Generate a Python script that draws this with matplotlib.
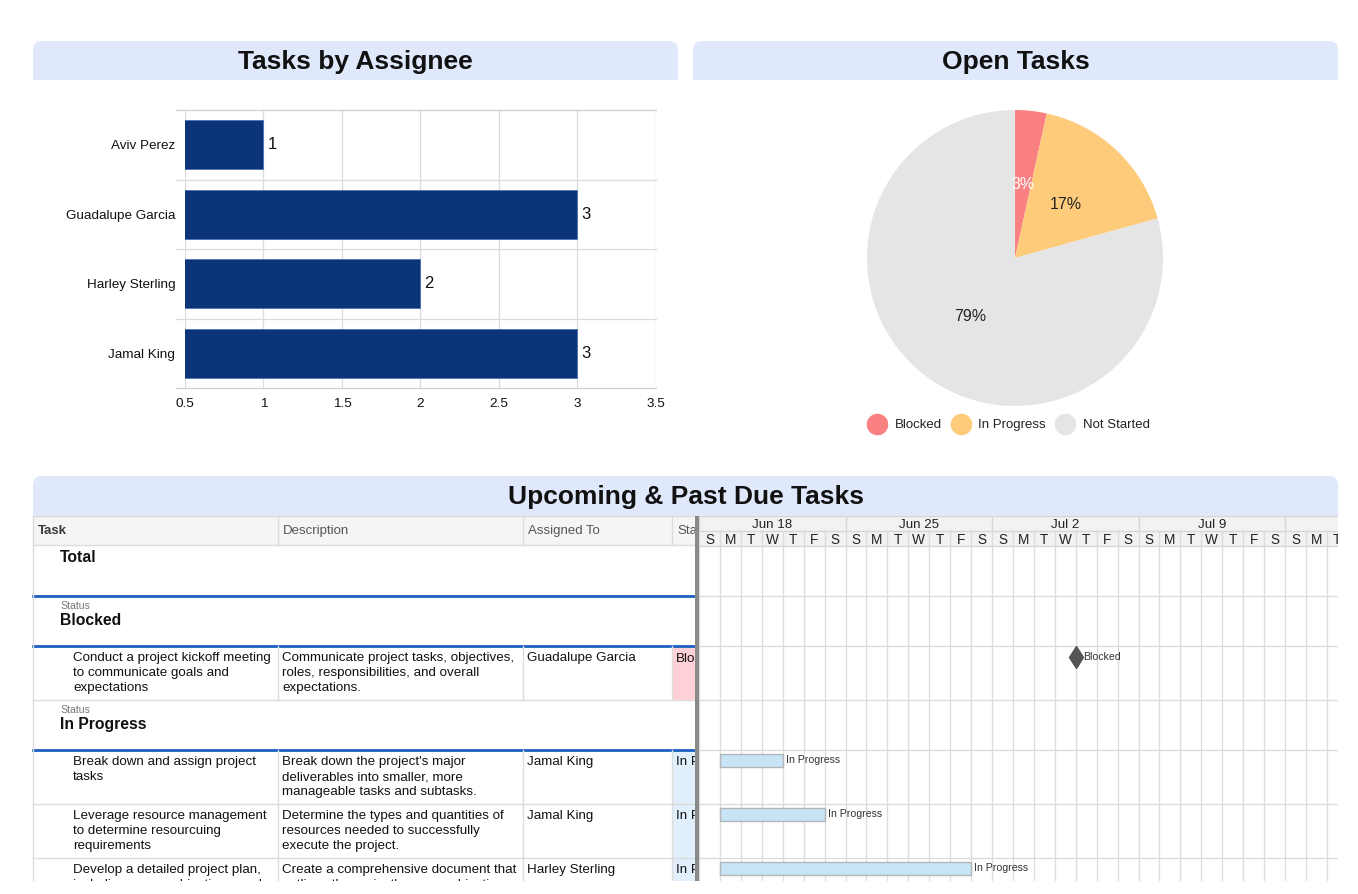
import matplotlib
matplotlib.use("Agg")
import matplotlib.pyplot as plt
import matplotlib.dates as mdates
from matplotlib.patches import Rectangle, FancyBboxPatch
from matplotlib.lines import Line2D
import numpy as np
import datetime as dt

plt.rcParams['font.family'] = ['Liberation Sans', 'DejaVu Sans']

# ---------------- data ----------------
assignees = ["Aviv Perez", "Guadalupe Garcia", "Harley Sterling", "Jamal King"]
task_counts = [1, 3, 2, 3]
bar_ticks = [0.5, 1, 1.5, 2, 2.5, 3, 3.5]
bar_tick_labels = ["0.5", "1", "1.5", "2", "2.5", "3", "3.5"]

status_labels = ["Blocked", "In Progress", "Not Started"]
status_counts = [1, 5, 23]
status_colors = ["#f98181", "#fecb7b", "#e5e5e5"]

table_columns = ["Task", "Description", "Assigned To", "Status"]
task_names = [
    "Conduct a project kickoff meeting\nto communicate goals and\nexpectations",
    "Break down and assign project\ntasks",
    "Leverage resource management\nto determine resourcuing\nrequirements",
    "Develop a detailed project plan,\nincluding scope, objectives, and\ndeliverables",
]
task_descriptions = [
    "Communicate project tasks, objectives,\nroles, responsibilities, and overall\nexpectations.",
    "Break down the project's major\ndeliverables into smaller, more\nmanageable tasks and subtasks.",
    "Determine the types and quantities of\nresources needed to successfully\nexecute the project.",
    "Create a comprehensive document that\noutlines the project's scope, objectives,\ndeliverables and timeline.",
]
task_assignees = ["Guadalupe Garcia", "Jamal King", "Jamal King", "Harley Sterling"]
task_statuses = ["Blocked", "In Progress", "In Progress", "In Progress"]
task_start = ["2023-07-06", "2023-06-19", "2023-06-19", "2023-06-19"]
task_days = [0, 3, 5, 12]          # 0 = milestone
timeline_start = "2023-06-18"
week_labels = ["Jun 18", "Jun 25", "Jul 2", "Jul 9", ""]
day_letters = ["S", "M", "T", "W", "T", "F", "S"]

# ---------------- figure ----------------
W, H = 1358, 894
fig = plt.figure(figsize=(W / 100, H / 100), dpi=100)
bg = fig.add_axes([0, 0, 1, 1])
bg.set_xlim(0, W)
bg.set_ylim(H, 0)
bg.axis('off')

HDR = "#dfe9fb"
GRID = "#dcdcdc"
BLUE = "#1d5fc2"


def header(x0, x1, y0, y1, title):
    bg.add_patch(FancyBboxPatch((x0, y0), x1 - x0, y1 - y0,
                                boxstyle="round,pad=0,rounding_size=9",
                                fc=HDR, ec='none'))
    bg.add_patch(Rectangle((x0, y0 + 12), x1 - x0, y1 - y0 - 12, fc=HDR, ec='none'))
    bg.text((x0 + x1) / 2, (y0 + y1) / 2 + 1, title, ha='center', va='center',
            fontsize=19, fontweight='bold', color='#111')


header(33, 678, 41, 80, "Tasks by Assignee")
header(693, 1338, 41, 80, "Open Tasks")
header(33, 1338, 476, 516, "Upcoming & Past Due Tasks")

# ---------------- bar chart ----------------
ax_bar = fig.add_axes([185 / W, 1 - 388 / H, (656 - 185) / W, (388 - 110) / H])
y = np.arange(len(assignees))
ax_bar.barh(y, task_counts, left=0, height=0.7, color="#0c3479",
            edgecolor="#4f72b3", lw=0.6, zorder=3)
for yi, c in zip(y, task_counts):
    ax_bar.text(c + 0.025, yi, str(c), va='center', ha='left', fontsize=12, color='#111')
ax_bar.set_xlim(0.5, 3.5)
ax_bar.set_ylim(len(assignees) - 0.5, -0.5)
ax_bar.set_xticks(bar_ticks, bar_tick_labels)
ax_bar.set_yticks(y, assignees)
ax_bar.tick_params(length=0, labelsize=9.7, colors='#111')
ax_bar.tick_params(axis='y', pad=7)
ax_bar.tick_params(axis='x', pad=7)
for s in ax_bar.spines.values():
    s.set_visible(False)
ax_bar.grid(axis='x', color=GRID, lw=0.9)
ax_bar.set_axisbelow(True)
for b in np.arange(-0.5, len(assignees)):
    ax_bar.plot([-0.02, 1], [b, b], transform=ax_bar.get_yaxis_transform(),
                color=GRID if -0.5 < b < len(assignees) - 0.5 else "#cfcfcf",
                lw=0.9, clip_on=False, zorder=1)

# ---------------- pie ----------------
cx, cy, r = 1015, 258, 148
ax_pie = fig.add_axes([(cx - r) / W, 1 - (cy + r) / H, 2 * r / W, 2 * r / H])
wedges, texts, autotexts = ax_pie.pie(
    status_counts, colors=status_colors, startangle=90, counterclock=False,
    autopct='%.0f%%', pctdistance=0.5, radius=1, wedgeprops=dict(lw=0),
    textprops=dict(fontsize=11.5, color='#222'))
autotexts[0].set_color('white')
ax_pie.set_xlim(-1, 1)
ax_pie.set_ylim(-1, 1)
handles = [Line2D([], [], marker='o', ls='', ms=14.5, mfc=c, mec=c) for c in status_colors]
fig.legend(handles, status_labels, loc='center', bbox_to_anchor=(1009 / W, 1 - 425 / H),
           ncol=3, frameon=False, fontsize=9.5, handletextpad=0.7,
           columnspacing=0.8, handlelength=1.3, labelcolor='#222')

# ---------------- table ----------------
col_x = [33, 278, 523, 672]
TL, TR = 33, 695
top = 516
HEAD_H, TOTAL_H, GROUP_H, TASK_H = 29, 51, 50, 54
FS = 9.6
LS = 1.28

status_clip = Rectangle((672, 516), 23, 370, transform=bg.transData)

bg.add_patch(Rectangle((TL, top), TR - TL, HEAD_H, fc='#f5f5f5', ec='none'))
for i, (cx_, name) in enumerate(zip(col_x, table_columns)):
    t = bg.text(cx_ + 5, top + HEAD_H / 2 + 0.5, name, va='center', ha='left',
                fontsize=9.5, color='#3a3a3a' if i == 0 else '#555',
                fontweight='bold' if i == 0 else 'normal', clip_on=True)
    if i == 3:
        t.set_clip_path(status_clip)
    if i > 0:
        bg.plot([cx_, cx_], [top, top + HEAD_H], color=GRID, lw=1)
bg.plot([TL, TR], [top, top], color=GRID, lw=1)
bg.plot([TL, TR], [top + HEAD_H, top + HEAD_H], color=GRID, lw=1)

row_bounds = []
yy = top + HEAD_H
# total row
bg.text(60, yy + 13, "Total", fontsize=11.3, fontweight='bold', va='center', color='#111')
yy += TOTAL_H
bg.plot([TL, TR], [yy, yy], color=BLUE, lw=2)
row_bounds.append(yy)

task_rows = {}
for st in status_labels:
    idx = [i for i, s in enumerate(task_statuses) if s == st]
    if not idx:
        continue
    bg.text(60, yy + 10, "Status", fontsize=7.6, va='center', color='#777')
    bg.text(60, yy + 24.5, st, fontsize=11.3, fontweight='bold', va='center', color='#111')
    yy += GROUP_H
    bg.plot([TL, TR], [yy, yy], color=BLUE, lw=2)
    row_bounds.append(yy)
    for i in idx:
        fc = '#ffd0d5' if st == "Blocked" else '#e1eefb'
        bg.add_patch(Rectangle((672, yy), 23, TASK_H, fc=fc, ec='none'))
        bg.text(73, yy + 6.5, task_names[i], va='top', fontsize=FS, linespacing=LS, color='#111')
        bg.text(282, yy + 6.5, task_descriptions[i], va='top', fontsize=FS, linespacing=LS, color='#111')
        bg.text(527, yy + 6.5, task_assignees[i], va='top', fontsize=FS, color='#111')
        t = bg.text(676, yy + 6.5, task_statuses[i], va='top', fontsize=FS, color='#111', clip_on=True)
        t.set_clip_path(status_clip)
        for cx_ in col_x[1:]:
            bg.plot([cx_, cx_], [yy, yy + TASK_H], color=GRID, lw=1)
        task_rows[i] = yy
        yy += TASK_H
        bg.plot([TL, TR], [yy, yy], color=GRID, lw=1)
        row_bounds.append(yy)

bg.plot([TL, TL], [top, 881], color=GRID, lw=1)
bg.add_patch(Rectangle((695, 516), 4.5, 365, fc='#8a8a8a', ec='none', zorder=20))
bg.add_patch(Rectangle((0, 881), W, H - 881, fc='white', ec='none', zorder=50))

# ---------------- gantt ----------------
DAY = 20.93
gx0, gx1, gy0, gy1 = 699, 1338, 516, 881
ax_g = fig.add_axes([gx0 / W, 1 - gy1 / H, (gx1 - gx0) / W, (gy1 - gy0) / H])
t0 = mdates.date2num(dt.datetime.strptime(timeline_start, "%Y-%m-%d"))
span = (gx1 - gx0) / DAY
ax_g.set_xlim(t0, t0 + span)
ax_g.set_ylim(gy1, gy0)
ax_g.axis('off')

ax_g.add_patch(Rectangle((t0, gy0), span, 30, fc='#f2f2f2', ec='none', zorder=0))
for yl in (gy0, gy0 + 15, gy0 + 30):
    ax_g.plot([t0, t0 + span], [yl, yl], color='#d6d6d6', lw=1, zorder=1)
for k, wl in enumerate(week_labels):
    xw = t0 + 7 * k
    ax_g.plot([xw, xw], [gy0, gy0 + 15], color='#d6d6d6', lw=1, zorder=1)
    ax_g.text(xw + 3.5, gy0 + 8.5, wl, ha='center', va='center', fontsize=9.6, color='#222')
for d in range(int(np.ceil(span)) + 1):
    xd = t0 + d
    ax_g.plot([xd, xd], [gy0 + 15, gy1], color=GRID, lw=1, zorder=1)
    if d + 0.5 < span + 0.3:
        ax_g.text(xd + 0.5, gy0 + 23.5, day_letters[d % 7], ha='center', va='center',
                  fontsize=9.8, color='#222', clip_on=True)
for yb in row_bounds:
    ax_g.plot([t0, t0 + span], [yb, yb], color=GRID, lw=1, zorder=1)

for i, ry in task_rows.items():
    s = mdates.date2num(dt.datetime.strptime(task_start[i], "%Y-%m-%d"))
    if task_days[i] == 0:
        ax_g.plot([s], [ry + 11], marker='d', ms=11.5, color='#555', zorder=4)
        ax_g.text(s + 0.35, ry + 10.5, task_statuses[i], va='center', fontsize=7.6, color='#333')
    else:
        ax_g.barh([ry + 10.5], [task_days[i]], left=s, height=13, color='#c6e4f6',
                  edgecolor='#b5b5b5', lw=1, zorder=4)
        ax_g.text(s + task_days[i] + 0.15, ry + 10, task_statuses[i], va='center',
                  fontsize=7.6, color='#333')

fig.savefig("out.png", dpi=100)
